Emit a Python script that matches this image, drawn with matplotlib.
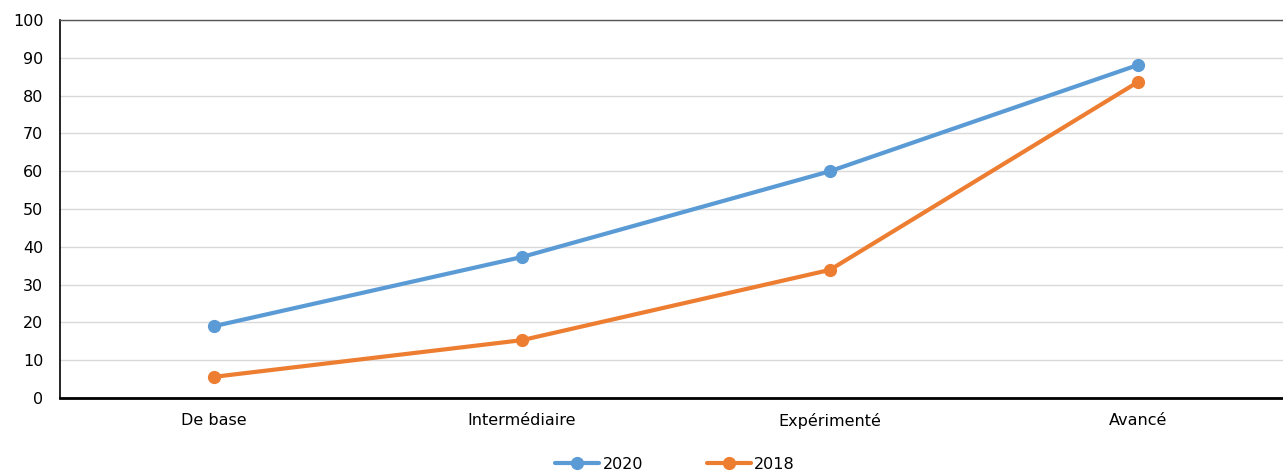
import matplotlib
matplotlib.use("Agg")
import matplotlib.pyplot as plt

categories = ["De base", "Intermédiaire", "Expérimenté", "Avancé"]
values_2020 = [19.0, 37.3, 60.0, 88.1]
values_2018 = [5.6, 15.3, 33.9, 83.6]
yticks = [0, 10, 20, 30, 40, 50, 60, 70, 80, 90, 100]

plt.rcParams["font.family"] = ["DejaVu Sans"]
plt.rcParams["font.size"] = 11.5

fig = plt.figure(figsize=(12.83, 4.73), dpi=100)
ax = fig.add_axes([60 / 1283, 1 - 398 / 473, 1232 / 1283, 378 / 473])

x = list(range(len(categories)))
ax.plot(x, values_2020, color="#5B9BD5", lw=3, marker="o", ms=8.5,
        label="2020", solid_capstyle="round", zorder=3)
ax.plot(x, values_2018, color="#ED7D31", lw=3, marker="o", ms=8.5,
        label="2018", solid_capstyle="round", zorder=3)

ax.set_xlim(-0.5, len(categories) - 0.5)
ax.set_ylim(0, 100)
ax.set_yticks(yticks)
ax.set_xticks(x)
ax.set_xticklabels(categories)
ax.yaxis.grid(True, color="#d9d9d9", lw=1)
ax.set_axisbelow(True)
ax.tick_params(axis="both", length=0, labelsize=11.5, colors="#000000")
ax.tick_params(axis="x", pad=11)
ax.tick_params(axis="y", pad=12)

ax.spines["left"].set_color("#000000")
ax.spines["left"].set_linewidth(1.2)
ax.spines["bottom"].set_color("#000000")
ax.spines["bottom"].set_linewidth(2)
ax.spines["top"].set_color("#555555")
ax.spines["top"].set_linewidth(1)
ax.spines["right"].set_visible(False)

fig.legend(loc="center", bbox_to_anchor=(675 / 1283, 1 - 464 / 473), ncol=2,
           frameon=False, handlelength=2.75, columnspacing=4.0, handletextpad=0.2,
           fontsize=11.5)

fig.savefig("out.png", dpi=100)
